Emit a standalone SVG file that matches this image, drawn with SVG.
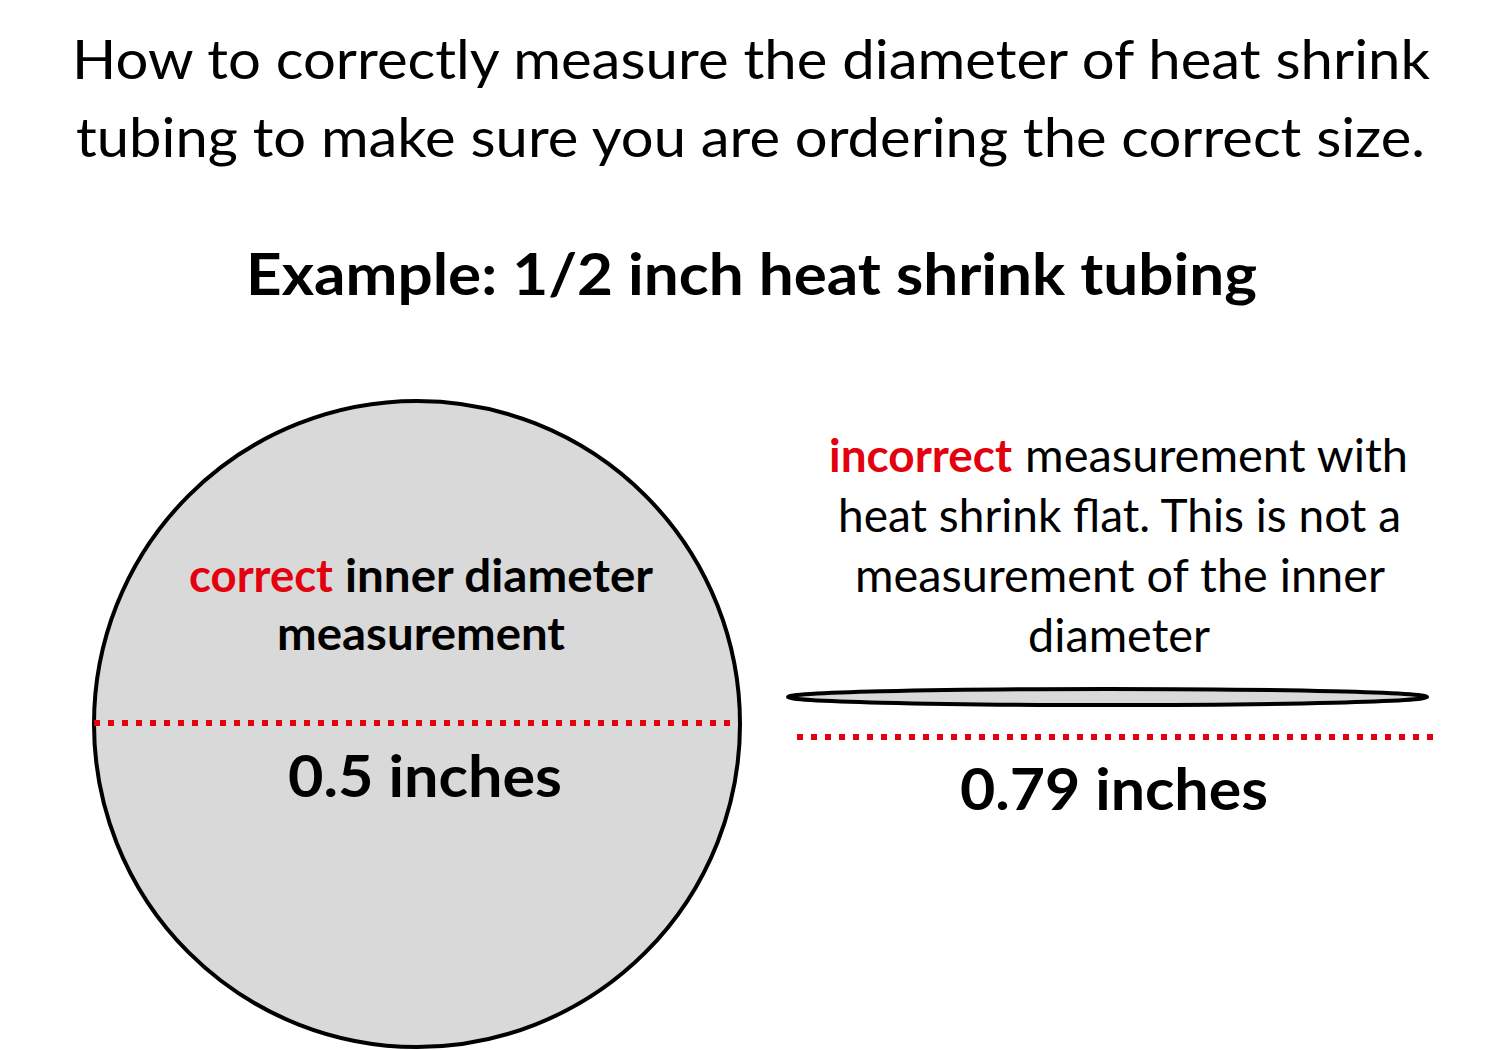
<svg xmlns="http://www.w3.org/2000/svg" width="1502" height="1050" viewBox="0 0 1502 1050">
<style>
text{font-family:Lato,"Open Sans","Liberation Sans",sans-serif;fill:#000}
.t{font-size:54px}
.b{font-weight:bold}
.r{fill:#e3000f}
.m{font-size:46px}
.dot{stroke:#e3000f;stroke-width:6;stroke-dasharray:6 8;fill:none}
.shape{fill:#d9d9d9;stroke:#000;stroke-width:4}
</style>
<rect width="1502" height="1050" fill="#fff"/>
<g id="title">
<text class="t" x="72" y="79" textLength="1358" lengthAdjust="spacingAndGlyphs">How to correctly measure the diameter of heat shrink</text>
<text class="t" x="76" y="157" textLength="1349" lengthAdjust="spacingAndGlyphs">tubing to make sure you are ordering the correct size.</text>
<text class="b" style="font-size:58px" x="246" y="295" textLength="1011" lengthAdjust="spacingAndGlyphs">Example: 1/2 inch heat shrink tubing</text>
</g>
<g id="round-tube">
<circle class="shape" cx="417" cy="724" r="323"/>
<text class="m b r" x="189" y="592" textLength="144" lengthAdjust="spacingAndGlyphs">correct</text>
<text class="m b" x="345" y="592" textLength="308" lengthAdjust="spacingAndGlyphs">inner diameter</text>
<text class="m b" x="277" y="650" textLength="288" lengthAdjust="spacingAndGlyphs">measurement</text>
<text class="b" style="font-size:58px" x="288" y="797" textLength="274" lengthAdjust="spacingAndGlyphs">0.5 inches</text>
</g>
<g id="flat-tube">
<ellipse class="shape" cx="1107.5" cy="697" rx="319.5" ry="8"/>
<text class="m b r" x="829" y="472" textLength="183" lengthAdjust="spacingAndGlyphs">incorrect</text>
<text class="m" x="1025" y="472" textLength="383" lengthAdjust="spacingAndGlyphs">measurement with</text>
<text class="m" x="838" y="532" textLength="563" lengthAdjust="spacingAndGlyphs">heat shrink flat. This is not a</text>
<text class="m" x="855" y="592" textLength="530" lengthAdjust="spacingAndGlyphs">measurement of the inner</text>
<text class="m" x="1028" y="652" textLength="182" lengthAdjust="spacingAndGlyphs">diameter</text>
<text class="b" style="font-size:58px" x="960" y="810" textLength="308" lengthAdjust="spacingAndGlyphs">0.79 inches</text>
</g>
<g id="connectors">
<line class="dot" x1="94" y1="723" x2="738" y2="723"/>
<line class="dot" x1="797" y1="737" x2="1436" y2="737"/>
</g>
</svg>
